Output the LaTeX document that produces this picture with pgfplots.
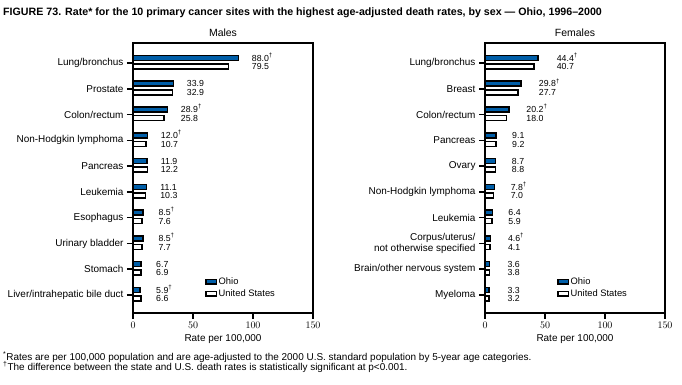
\documentclass[border=0pt]{standalone}
\usepackage{fontspec}
\setmainfont{Liberation Sans}
\usepackage{pgfplots}
\usepackage{pgfplotstable}
\pgfplotsset{compat=1.18}
\definecolor{ohio}{RGB}{0,94,168}
\newcommand{\dg}{\textsuperscript{†}}

\pgfplotstableread{
idx ohio us lx lo lu
9 88.0 79.5 98.9 88.0\dg{} 79.5
8 33.9 32.9 44.8 33.9 32.9
7 28.9 25.8 39.8 28.9\dg{} 25.8
6 12.0 10.7 23.1 12.0\dg{} 10.7
5 11.9 12.2 23.1 11.9 12.2
4 11.1 10.3 22.6 11.1 10.3
3 8.5 7.6 21.1 8.5\dg{} 7.6
2 8.5 7.7 21.1 8.5\dg{} 7.7
1 6.7 6.9 19.2 6.7 6.9
0 5.9 6.6 19.2 5.9\dg{} 6.6
}\males

\pgfplotstableread{
idx ohio us lx lo lu
9 44.4 40.7 59.7 44.4\dg{} 40.7
8 29.8 27.7 44.8 29.8\dg{} 27.7
7 20.2 18.0 34.4 20.2\dg{} 18.0
6 9.1 9.2 22.5 9.1 9.2
5 8.7 8.8 22.3 8.7 8.8
4 7.8 7.0 21.3 7.8\dg{} 7.0
3 6.4 5.9 19.4 6.4 5.9
2 4.6 4.1 19.0 4.6\dg{} 4.1
1 3.6 3.8 18.6 3.6 3.8
0 3.3 3.2 18.6 3.3 3.2
}\females

\pgfplotsset{
  panel/.style={
    scale only axis, width=180bp, height=270bp, anchor=south west,
    xmin=0, xmax=150, ymin=-0.7, ymax=9.78,
    xtick={0,50,100,150}, ytick={0,...,9},
    tick align=outside, tick pos=left,
    major tick length=6bp,
    every tick/.style={black, line width=1.6bp},
    axis line style={line width=1.6bp},
    ticklabel style={font=\fontsize{10}{11}\selectfont},
    yticklabel style={align=right},
    title style={font=\fontsize{10.5}{12}\selectfont, yshift=-3bp},
    xlabel={Rate per 100,000},
    xlabel style={font=\fontsize{10}{11}\selectfont, yshift=1.5bp},
    legend style={at={(0.4,0.137)}, anchor=north west, draw=none, fill=none,
      font=\fontsize{9.4}{10}\selectfont, inner sep=0pt, row sep=0.5bp,
      nodes={inner sep=1.5bp}},
    legend cell align=left,
  },
  ohiobar/.style={xbar, bar width=5bp, bar shift=5.1bp, fill=ohio, draw=black, line width=1.6bp,
    legend image code/.code={\draw[#1, line width=1.6bp] (0bp,-2.2bp) rectangle (10.4bp,2.2bp);}},
  usbar/.style={xbar, bar width=5bp, bar shift=-3.5bp, fill=white, draw=black, line width=1.6bp,
    legend image code/.code={\draw[#1, line width=1.6bp] (0bp,-2.2bp) rectangle (10.4bp,2.2bp);}},
  vlab/.style={draw=none, mark=none, forget plot, nodes near coords, point meta=explicit symbolic,
    every node near coord/.style={anchor=base west, inner sep=0pt, font=\fontsize{8.8}{10}\selectfont, yshift=#1}},
}

\begin{document}
\begin{tikzpicture}
\path (0,0) rectangle (682bp,385bp);
\node[anchor=base west, inner sep=0pt, font=\bfseries\fontsize{10.7}{12}\selectfont] at (3bp,369bp)
  {FIGURE 73. Rate* for the 10 primary cancer sites with the highest age-adjusted death rates, by sex — Ohio, 1996–2000};

\begin{axis}[panel, at={(133bp,72bp)}, title={Males},
  yticklabels={Liver/intrahepatic bile duct, Stomach, Urinary bladder, Esophagus, Leukemia, Pancreas, Non-Hodgkin lymphoma, Colon/rectum, Prostate, Lung/bronchus}]
\addplot[ohiobar] table[x=ohio, y=idx] {\males};
\addlegendentry{Ohio}
\addplot[usbar] table[x=us, y=idx] {\males};
\addlegendentry{United States}
\addplot[vlab=1.9bp] table[x=lx, y=idx, meta=lo] {\males};
\addplot[vlab=-6.7bp] table[x=lx, y=idx, meta=lu] {\males};
\end{axis}

\begin{axis}[panel, at={(485bp,72bp)}, title={Females},
  yticklabels={Myeloma, Brain/other nervous system, {Corpus/uterus/\\not otherwise specified}, Leukemia, Non-Hodgkin lymphoma, Ovary, Pancreas, Colon/rectum, Breast, Lung/bronchus}]
\addplot[ohiobar] table[x=ohio, y=idx] {\females};
\addlegendentry{Ohio}
\addplot[usbar] table[x=us, y=idx] {\females};
\addlegendentry{United States}
\addplot[vlab=1.9bp] table[x=lx, y=idx, meta=lo] {\females};
\addplot[vlab=-6.7bp] table[x=lx, y=idx, meta=lu] {\females};
\end{axis}

\node[anchor=base west, inner sep=0pt, font=\fontsize{10}{11}\selectfont] at (3bp,25bp)
  {\textsuperscript{*}Rates are per 100,000 population and are age-adjusted to the 2000 U.S. standard population by 5-year age categories.};
\node[anchor=base west, inner sep=0pt, font=\fontsize{10}{11}\selectfont] at (3bp,15bp)
  {\textsuperscript{†}The difference between the state and U.S. death rates is statistically significant at p<0.001.};
\end{tikzpicture}
\end{document}
